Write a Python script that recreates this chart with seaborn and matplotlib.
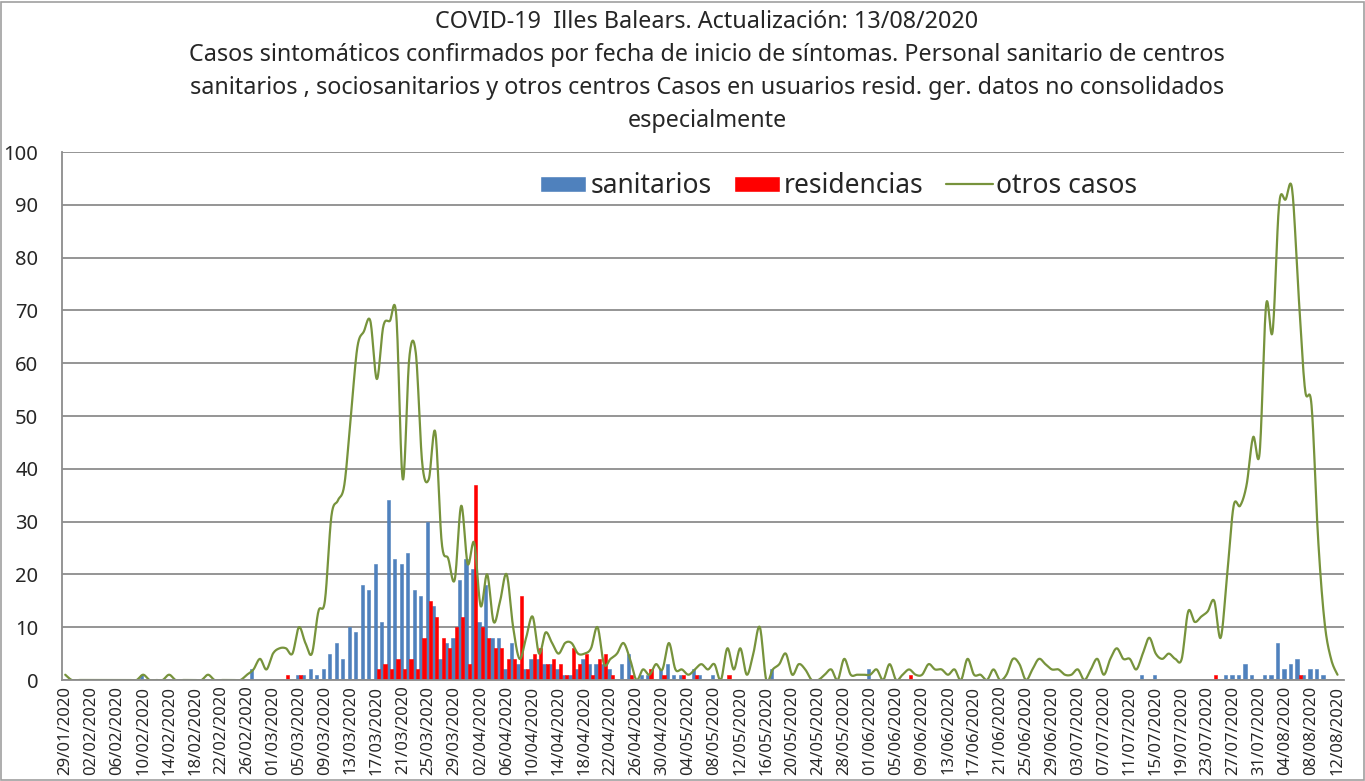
import numpy as np
import pandas as pd
import seaborn as sns
import matplotlib.pyplot as plt
from matplotlib.patches import Patch, Rectangle
from matplotlib.lines import Line2D

# dias desde 29/01/2020 hasta 12/08/2020
fechas = pd.date_range('2020-01-29', '2020-08-12', freq='D')
etiquetas = list(fechas.strftime('%d/%m/%Y'))

sanitarios = [
    0, 0, 0, 0, 0, 0, 0, 0, 0, 0, 0, 0, 1, 0, 0, 0, 0, 0, 0, 0,
    0, 0, 0, 0, 0, 0, 0, 0, 0, 2, 0, 0, 0, 0, 0, 0, 1, 1, 2, 1,
    2, 5, 7, 4, 10, 9, 18, 17, 22, 11, 34, 23, 22, 24, 17, 16, 30, 14, 4, 7,
    8, 19, 23, 21, 11, 18, 8, 8, 2, 7, 3, 2, 4, 4, 3, 3, 2, 1, 1, 2,
    4, 3, 3, 3, 2, 0, 3, 5, 0, 1, 1, 0, 2, 3, 1, 1, 0, 2, 1, 0,
    1, 0, 0, 0, 0, 0, 0, 0, 0, 2, 0, 0, 0, 0, 0, 0, 0, 0, 0, 0,
    0, 0, 0, 0, 2, 0, 0, 0, 0, 0, 0, 0, 0, 0, 0, 0, 0, 0, 0, 0,
    0, 0, 0, 0, 0, 0, 0, 0, 0, 0, 0, 0, 0, 0, 0, 0, 0, 0, 0, 0,
    0, 0, 0, 0, 0, 0, 1, 0, 1, 0, 0, 0, 0, 0, 0, 0, 0, 0, 0, 1,
    1, 1, 3, 1, 0, 1, 1, 7, 2, 3, 4, 1, 2, 2, 1, 0, 0,
]

residencias = [
    0, 0, 0, 0, 0, 0, 0, 0, 0, 0, 0, 0, 0, 0, 0, 0, 0, 0, 0, 0,
    0, 0, 0, 0, 0, 0, 0, 0, 0, 0, 0, 0, 0, 0, 1, 0, 1, 0, 0, 0,
    0, 0, 0, 0, 0, 0, 0, 0, 2, 3, 2, 4, 2, 4, 2, 8, 15, 12, 8, 6,
    10, 12, 3, 37, 10, 8, 6, 6, 4, 4, 16, 2, 5, 6, 3, 4, 3, 1, 6, 3,
    5, 1, 4, 5, 1, 0, 0, 1, 0, 0, 2, 0, 1, 0, 0, 1, 0, 1, 0, 0,
    0, 0, 1, 0, 0, 0, 0, 0, 0, 0, 0, 0, 0, 0, 0, 0, 0, 0, 0, 0,
    0, 0, 0, 0, 0, 0, 0, 0, 0, 0, 1, 0, 0, 0, 0, 0, 0, 0, 0, 0,
    0, 0, 0, 0, 0, 0, 0, 0, 0, 0, 0, 0, 0, 0, 0, 0, 0, 0, 0, 0,
    0, 0, 0, 0, 0, 0, 0, 0, 0, 0, 0, 0, 0, 0, 0, 0, 0, 1, 0, 0,
    0, 0, 0, 0, 0, 0, 0, 0, 0, 0, 1, 0, 0, 0, 0, 0, 0,
]

otros_casos = [
    1, 0, 0, 0, 0, 0, 0, 0, 0, 0, 0, 0, 1, 0, 0, 0, 1, 0, 0, 0,
    0, 0, 1, 0, 0, 0, 0, 0, 1, 2, 4, 2, 5, 6, 6, 5, 10, 7, 5, 13,
    15, 31, 34, 37, 50, 63, 66, 68, 57, 67, 68, 69, 38, 61, 62, 41, 38, 47, 26, 23,
    19, 33, 22, 26, 14, 20, 11, 15, 20, 10, 4, 8, 12, 5, 9, 7, 5, 7, 7, 5,
    5, 6, 10, 3, 4, 5, 7, 4, 0, 2, 1, 3, 2, 7, 2, 2, 1, 2, 3, 2,
    3, 0, 6, 2, 6, 1, 5, 10, 0, 2, 3, 5, 1, 3, 2, 0, 0, 1, 2, 0,
    4, 1, 1, 1, 1, 2, 0, 3, 0, 1, 2, 1, 1, 3, 2, 2, 1, 2, 0, 4,
    1, 1, 0, 2, 0, 1, 4, 3, 0, 2, 4, 3, 2, 2, 1, 1, 2, 0, 2, 4,
    1, 4, 6, 4, 4, 2, 5, 8, 5, 4, 5, 4, 4, 13, 11, 12, 13, 15, 8, 20,
    33, 33, 37, 46, 43, 71, 66, 90, 91, 93, 73, 55, 52, 27, 11, 4, 1,
]

AZUL = '#4F81BD'
ROJO = '#FF0000'
VERDE = '#77933C'
GRIS = '#8C8C8C'

n = len(etiquetas)
dia = np.arange(n)
df = pd.DataFrame({
    'dia': np.concatenate([dia, dia]),
    'casos': sanitarios + residencias,
    'serie': ['sanitarios'] * n + ['residencias'] * n,
})


def curva_suave(x, y, pasos=16):
    # linea suavizada tipo Excel (Bezier / Catmull-Rom)
    x = np.asarray(x, float)
    y = np.asarray(y, float)
    xs, ys = [], []
    t = np.linspace(0, 1, pasos, endpoint=False)
    for i in range(len(x) - 1):
        i0, i3 = max(i - 1, 0), min(i + 2, len(x) - 1)
        p1 = np.array([x[i], y[i]])
        p2 = np.array([x[i + 1], y[i + 1]])
        c1 = p1 + (p2 - np.array([x[i0], y[i0]])) / 6
        c2 = p2 - (np.array([x[i3], y[i3]]) - p1) / 6
        b = ((1 - t) ** 3)[:, None] * p1 + (3 * (1 - t) ** 2 * t)[:, None] * c1 \
            + (3 * (1 - t) * t ** 2)[:, None] * c2 + (t ** 3)[:, None] * p2
        xs.append(b[:, 0])
        ys.append(b[:, 1])
    xs.append([x[-1]])
    ys.append([y[-1]])
    return np.concatenate(xs), np.concatenate(ys)


sns.set_style('white')
plt.rcParams['font.family'] = ['Noto Sans', 'DejaVu Sans']

fig = plt.figure(figsize=(13.65, 7.81), dpi=100)
ax = fig.add_axes([62 / 1365, 1 - 680 / 781, 1282 / 1365, 528 / 781])

sns.barplot(data=df, x='dia', y='casos', hue='serie',
            hue_order=['sanitarios', 'residencias'],
            palette={'sanitarios': AZUL, 'residencias': ROJO},
            width=1.0, dodge=True, errorbar=None, saturation=1,
            legend=False, ax=ax)
for barra in ax.patches:
    barra.set_edgecolor(barra.get_facecolor())
    barra.set_linewidth(0.4)

xs, ys = curva_suave(dia, otros_casos)
sns.lineplot(x=xs, y=ys, color=VERDE, lw=1.6, sort=False, estimator=None, ax=ax)

ax.set_xlim(-0.4, n - 0.0)
ax.set_ylim(0, 100)
ax.set_yticks(range(0, 101, 10))
ax.yaxis.grid(True, color=GRIS, lw=1.3)
ax.set_axisbelow(True)

ax.set_xticks(dia[::4])
ax.set_xticklabels(etiquetas[::4], rotation=90, fontsize=12)
ax.set_xticks(np.arange(-0.5, n, 1), minor=True)
ax.tick_params(axis='x', which='major', length=0, pad=4)
ax.tick_params(axis='x', which='minor', length=4, width=1, color=GRIS, direction='out')
ax.tick_params(axis='y', length=5, width=1, color=GRIS, labelsize=14.5, pad=12)
ax.set_xlabel('')
ax.set_ylabel('')

for lado in ['top', 'right']:
    ax.spines[lado].set_visible(False)
for lado in ['left', 'bottom']:
    ax.spines[lado].set_color(GRIS)
    ax.spines[lado].set_linewidth(1.3)

manejadores = [Patch(facecolor=AZUL, label='sanitarios'),
               Patch(facecolor=ROJO, label='residencias'),
               Line2D([0], [0], color=VERDE, lw=1.6, label='otros casos')]
ax.legend(handles=manejadores, loc='center', bbox_to_anchor=(0.606, 0.935),
          ncol=3, frameon=False, fontsize=19, handlelength=1.75,
          handleheight=0.6, handletextpad=0.15, columnspacing=0.85)

titulo = ['COVID-19  Illes Balears. Actualización: 13/08/2020',
          'Casos sintomáticos confirmados por fecha de inicio de síntomas. Personal sanitario de centros',
          'sanitarios , sociosanitarios y otros centros Casos en usuarios resid. ger. datos no consolidados',
          'especialmente']
for k, linea in enumerate(titulo):
    fig.text(707 / 1365, 1 - (22 + 33 * k) / 781, linea, ha='center', va='center',
             fontsize=16.8)

fig.patches.append(Rectangle((0.001, 0.001), 0.998, 0.997, transform=fig.transFigure,
                             fill=False, edgecolor='#A0A0A0', lw=1.2))

fig.savefig('out.png', dpi=100)
